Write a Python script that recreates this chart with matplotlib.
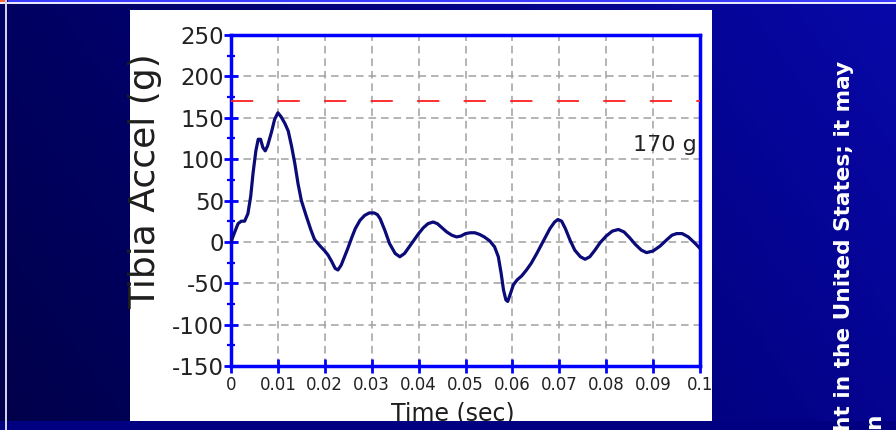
import matplotlib
matplotlib.use("Agg")
import matplotlib.pyplot as plt
import numpy as np
from matplotlib.patches import Rectangle
import matplotlib.ticker as ticker

plt.rcParams['lines.scale_dashes'] = False
plt.rcParams['font.family'] = ['DejaVu Sans']

# tibia acceleration trace
time_s = [0.0000, 0.0008, 0.0015, 0.0022, 0.0029, 0.0036, 0.0042, 0.0047, 0.0053, 0.0058,
          0.0063, 0.0068, 0.0073, 0.0078, 0.0086, 0.0093, 0.0100, 0.0107, 0.0115, 0.0122,
          0.0129, 0.0136, 0.0143, 0.0150, 0.0160, 0.0170, 0.0178, 0.0190, 0.0200, 0.0207,
          0.0215, 0.0222, 0.0228, 0.0235, 0.0242, 0.0249, 0.0258, 0.0265, 0.0275, 0.0285,
          0.0295, 0.0305, 0.0312, 0.0318, 0.0328, 0.0338, 0.0350, 0.0360, 0.0370, 0.0380,
          0.0390, 0.0400, 0.0410, 0.0420, 0.0431, 0.0440, 0.0450, 0.0460, 0.0471, 0.0481,
          0.0490, 0.0500, 0.0510, 0.0520, 0.0530, 0.0540, 0.0552, 0.0562, 0.0570, 0.0576,
          0.0581, 0.0586, 0.0590, 0.0595, 0.0602, 0.0610, 0.0620, 0.0630, 0.0640, 0.0652,
          0.0665, 0.0680, 0.0690, 0.0697, 0.0705, 0.0713, 0.0723, 0.0733, 0.0745, 0.0755,
          0.0765, 0.0776, 0.0787, 0.0800, 0.0813, 0.0826, 0.0838, 0.0850, 0.0862, 0.0875,
          0.0886, 0.0900, 0.0915, 0.0930, 0.0940, 0.0950, 0.0962, 0.0975, 0.0990, 0.1000]
accel_g = [0, 12, 22, 25, 25, 34, 55, 83, 110, 124,
           124, 114, 110, 116, 132, 148, 156, 151, 143, 134,
           116, 95, 70, 50, 32, 15, 3, -5, -11, -16,
           -24, -32, -34, -28, -18, -8, 6, 16, 26, 32,
           35, 35, 33, 28, 14, -2, -14, -18, -14, -6,
           2, 10, 17, 22, 24, 22, 17, 12, 8, 6,
           7, 10, 11, 11, 9, 6, 1, -6, -18, -38,
           -58, -70, -72, -64, -52, -46, -41, -34, -26, -14,
           0, 16, 24, 27, 25, 16, 2, -10, -18, -21,
           -18, -10, -1, 7, 13, 15, 12, 5, -3, -10,
           -13, -11, -5, 3, 8, 10, 10, 6, -2, -8]

limit_g = 170
limit_label = '170 g'
xticks = [0, 0.01, 0.02, 0.03, 0.04, 0.05, 0.06, 0.07, 0.08, 0.09, 0.1]
xtick_labels = ['0', '0.01', '0.02', '0.03', '0.04', '0.05', '0.06', '0.07', '0.08', '0.09', '0.1']
yticks = [-150, -100, -50, 0, 50, 100, 150, 200, 250]
ytick_labels = ['-150', '-100', '-50', '0', '50', '100', '150', '200', '250']
side_text = ['ht in the United States; it may', 'n']

W, H = 896, 430
fig = plt.figure(figsize=(W / 100, H / 100), dpi=100)

# slide background, pixel coordinates
bg = fig.add_axes([0, 0, 1, 1], zorder=-5)
bg.set_xlim(0, W)
bg.set_ylim(H, 0)
bg.axis('off')
gx, gy = np.meshgrid(np.linspace(0, 1, 200), np.linspace(0, 1, 100))
grad = np.clip(0.75 * gx + 0.25 * (1 - gy), 0, 1)
cmap = matplotlib.colors.LinearSegmentedColormap.from_list('slide', ['#00004a', '#000078', '#0808a8'])
bg.imshow(grad, cmap=cmap, extent=[0, W, H, 0], aspect='auto')
bg.add_patch(Rectangle((130, 10), 582, 412, facecolor='white', edgecolor='none'))

# main chart
ax = fig.add_axes([231 / W, 1 - 366 / H, (700 - 231) / W, (366 - 35) / H])
ax.plot(time_s, accel_g, color='#0a0a78', lw=2.3, solid_joinstyle='round', zorder=4)
ax.axhline(limit_g, color='#ff2020', lw=1.3, dashes=(16, 17.5), zorder=3)
ax.text(0.0994, 117, limit_label, ha='right', va='center', fontsize=16, color='#222222')

ax.set_xlim(0, 0.1)
ax.set_ylim(-150, 250)
ax.xaxis.set_major_locator(ticker.FixedLocator(xticks))
ax.xaxis.set_major_formatter(ticker.FixedFormatter(xtick_labels))
ax.yaxis.set_major_locator(ticker.FixedLocator(yticks))
ax.yaxis.set_major_formatter(ticker.FixedFormatter(ytick_labels))
ax.yaxis.set_minor_locator(ticker.MultipleLocator(25))
ax.tick_params(axis='x', which='major', direction='inout', length=10.5, width=2,
               color='#0000ff', labelsize=12, labelcolor='#222222', pad=2)
ax.tick_params(axis='y', which='major', direction='inout', length=10, width=2,
               color='#0000ff', labelsize=16.5, labelcolor='#222222', pad=0)
ax.tick_params(axis='y', which='minor', direction='inout', length=6, width=1.6, color='#0000ff')
for s in ax.spines.values():
    s.set_color('#0000ff')
    s.set_linewidth(2.5)
ax.grid(True, color='#a0a0a0', linestyle=(0, (5.5, 3.5)), linewidth=1.1, zorder=1)
ax.set_axisbelow(True)

ax.set_ylabel('Tibia Accel (g)', fontsize=26, color='#1e1e1e')
ax.yaxis.set_label_coords(-0.146, 0.56)
ax.set_xlabel('Time (sec)', fontsize=17, color='#1e1e1e')
ax.xaxis.set_label_coords(0.474, -0.106)

# overlay: bottom band, frame lines and the cut-off side text
ov = fig.add_axes([0, 0, 1, 1], zorder=5)
ov.set_xlim(0, W)
ov.set_ylim(H, 0)
ov.axis('off')
ov.patch.set_alpha(0)
ov.add_patch(Rectangle((0, 421), W, 10, facecolor='#000080', edgecolor='none'))
ov.add_patch(Rectangle((0, 2.3), W, 1.8, facecolor='#e8e8ff', edgecolor='none'))
ov.add_patch(Rectangle((5, 0), 2, H, facecolor='#d0d0f0', edgecolor='none'))
ov.add_patch(Rectangle((0, 0), 5, 2.3, facecolor='#ff6633', edgecolor='none'))
ov.add_patch(Rectangle((8, 0), W - 8, 2.3, facecolor='#3b3bff', edgecolor='none'))
ov.text(850, 431, side_text[0], rotation=90, rotation_mode='anchor', ha='left', va='baseline',
        fontsize=15.6, fontweight='bold', color='white')
ov.text(880, 429, side_text[1], rotation=90, rotation_mode='anchor', ha='left', va='baseline',
        fontsize=15.6, fontweight='bold', color='white')

fig.savefig('out.png', dpi=100)
